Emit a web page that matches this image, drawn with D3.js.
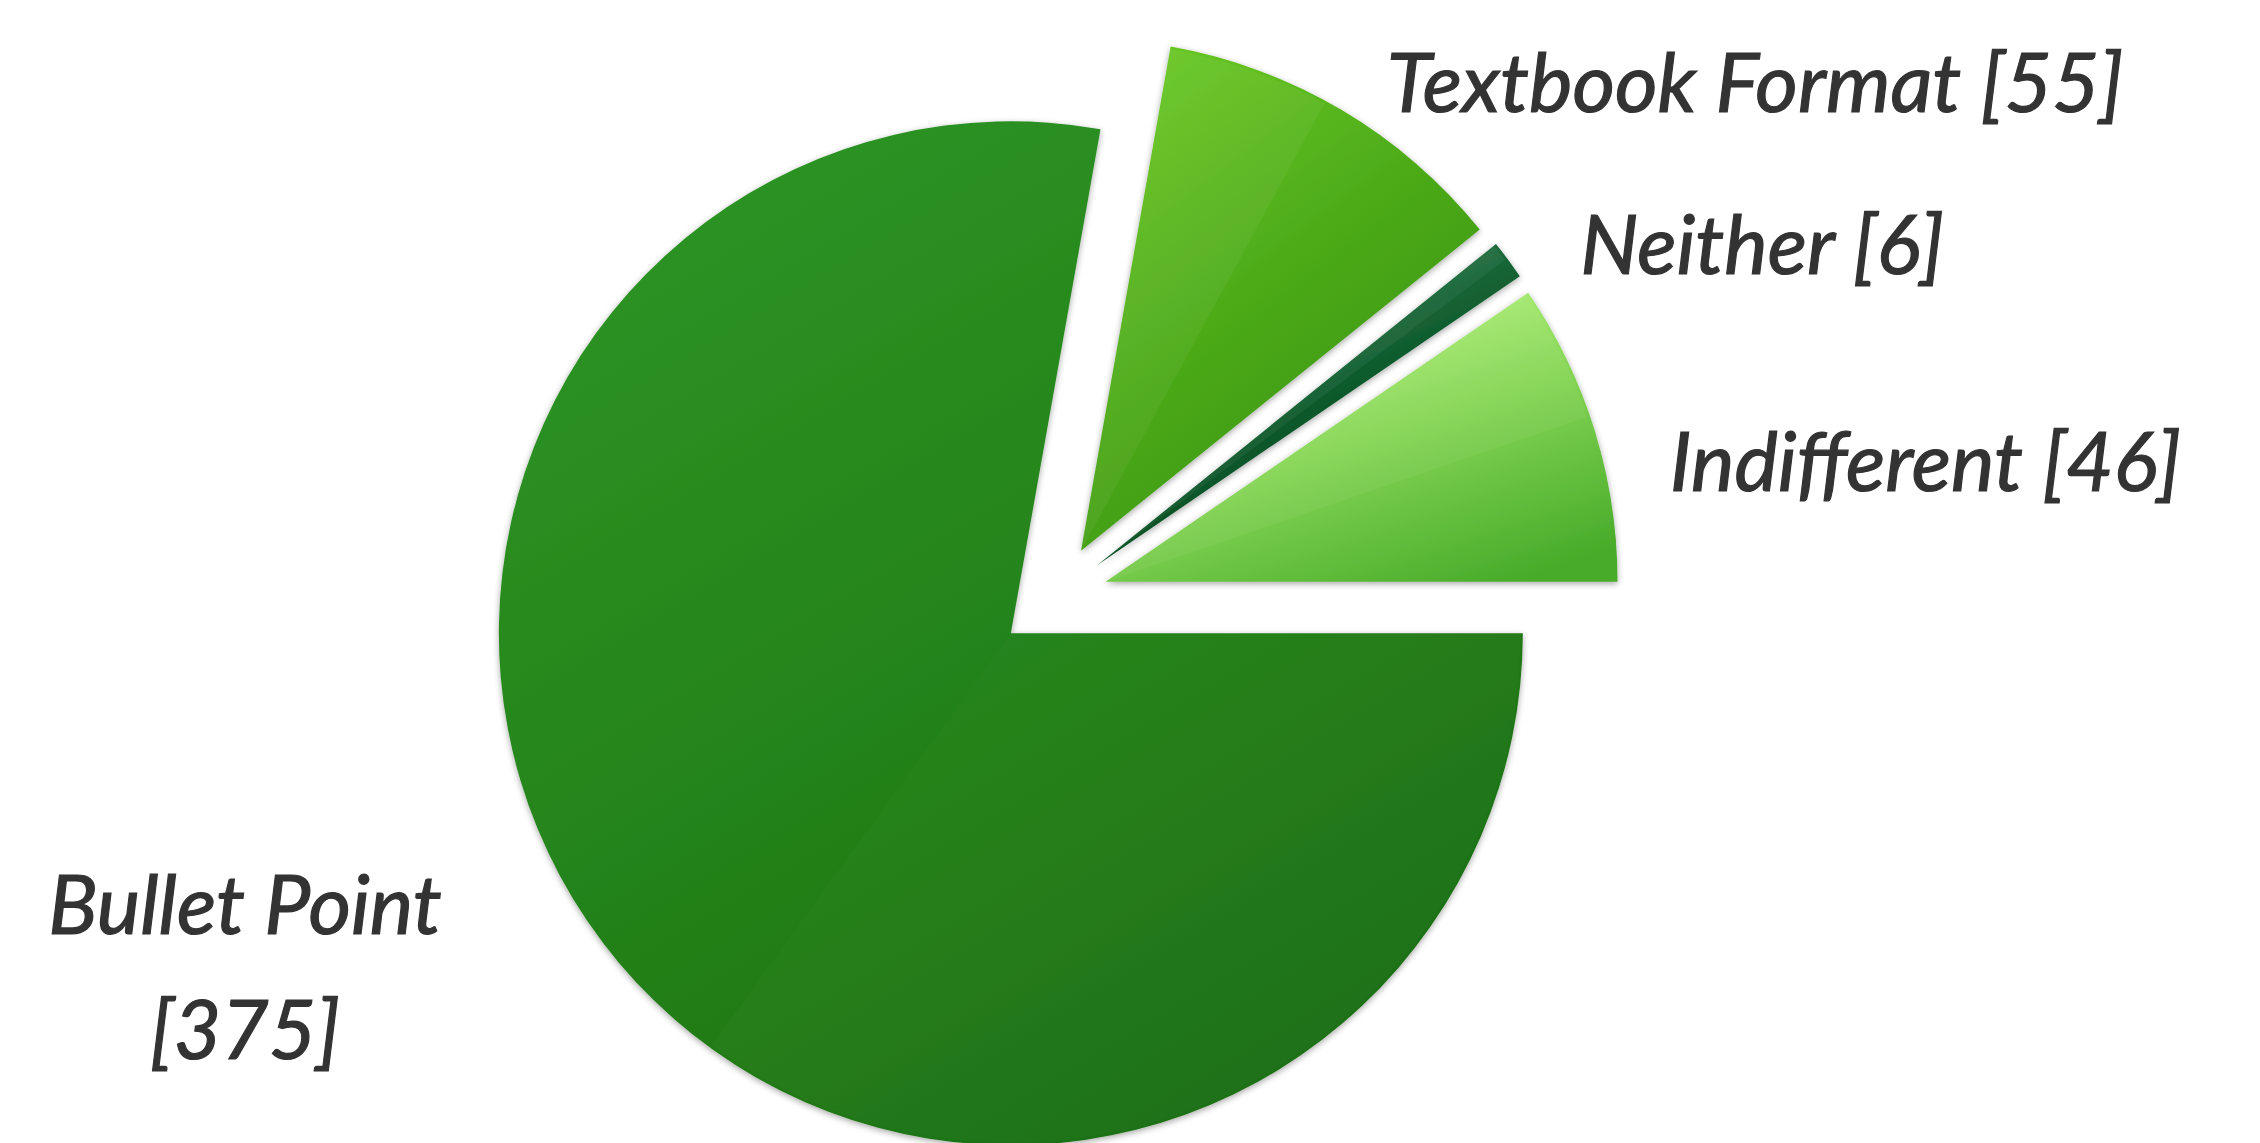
<!DOCTYPE html>
<html>
<head>
<meta charset="utf-8">
<script src="https://cdn.jsdelivr.net/npm/d3@7"></script>
<style>
  body { margin: 0; background: #ffffff; }
  svg { display: block; }
</style>
</head>
<body>
<svg id="pie"></svg>
<script>
// Data (clockwise from just right of 12 o'clock)
const categories = ["Textbook Format", "Neither", "Indifferent", "Bullet Point"];
const counts = [55, 6, 46, 375];

// Styling
const sliceStops = [
    ["#68c722", "#4aa818", "#36901a"],
    ["#3a8a58", "#0d5a2c", "#003a18"],
    ["#c6ff8c", "#86d655", "#48ab2a"],
    ["#2d9424", "#24831a", "#1c6c11"]
];
const facetOpacity = [0.05, 0.05, 0.05, 0.015];

let width = 2260, height = 1143;
let center = { x: 1053, y: 598 };
let radius = 512;
let explode = 55;

let svg = d3.select('#pie')
    .attr('width', width)
    .attr('height', height);

let defs = svg.append('defs');

// Drop shadow under the slices
let shadow = defs.append('filter')
    .attr('id', 'shadow')
    .attr('x', '-10%').attr('y', '-10%')
    .attr('width', '120%').attr('height', '120%');
shadow.append('feDropShadow')
    .attr('dx', 0).attr('dy', 2)
    .attr('stdDeviation', 3)
    .attr('flood-color', '#000')
    .attr('flood-opacity', 0.35);

// One gradient for each slice
sliceStops.forEach((stops, i) => {
    let g = defs.append('linearGradient')
        .attr('id', 'grad' + i)
        .attr('x1', 0.2).attr('y1', 0)
        .attr('x2', 0.8).attr('y2', 1);
    stops.forEach((c, j) => {
        g.append('stop')
            .attr('offset', j / (stops.length - 1))
            .attr('stop-color', c);
    });
});

// Start angle chosen so the last slice closes exactly at 3 o'clock
const total = d3.sum(counts);
const startAngle = Math.PI / 2 - 2 * Math.PI * d3.sum(counts.slice(0, 3)) / total;

let pie = d3.pie()
    .sort(null)
    .startAngle(startAngle)
    .endAngle(startAngle + 2 * Math.PI);

let arcs = pie(counts);

let arc = d3.arc()
    .innerRadius(0)
    .outerRadius(radius);

let chart = svg.append('g')
    .attr('transform', `translate(${center.x}, ${center.y})`);

// Draw each slice pushed out along its middle angle
let slices = chart.selectAll('.slice')
    .data(arcs)
    .enter()
    .append('g')
    .attr('class', 'slice')
    .attr('transform', d => {
        let mid = (d.startAngle + d.endAngle) / 2;
        return `translate(${Math.sin(mid) * explode}, ${-Math.cos(mid) * explode})`;
    });

slices.append('path')
    .attr('d', arc)
    .attr('fill', (d, i) => `url(#grad${i})`)
    .attr('filter', 'url(#shadow)');

// faint lighter facet on the leading half of each slice
slices.append('path')
    .attr('d', d => d3.arc()
        .innerRadius(0)
        .outerRadius(radius * 0.995)
        .startAngle(d.startAngle)
        .endAngle(d.startAngle + (d.endAngle - d.startAngle) * 0.45)())
    .attr('fill', '#ffffff')
    .attr('opacity', (d, i) => facetOpacity[i]);

// Labels
const labelOffsets = [
    { dx: 45, dy: 2 },
    { dx: 72, dy: 14 },
    { dx: 75, dy: 60 }
];

let labelR = radius + explode;

function styleLabel(sel) {
    sel.style('font-family', 'Lato, "Open Sans", sans-serif')
        .style('font-style', 'italic')
        .style('font-size', '82px')
        .style('fill', '#333333')
        .style('stroke', '#333333')
        .style('stroke-width', 1.2);
}

svg.append('g')
    .selectAll('text')
    .data(arcs.slice(0, 3))
    .enter()
    .append('text')
    .attr('x', (d, i) => {
        let mid = (d.startAngle + d.endAngle) / 2;
        return center.x + Math.sin(mid) * labelR + labelOffsets[i].dx;
    })
    .attr('y', (d, i) => {
        let mid = (d.startAngle + d.endAngle) / 2;
        return center.y - Math.cos(mid) * labelR + labelOffsets[i].dy;
    })
    .attr('text-anchor', 'start')
    .call(styleLabel)
    .text((d, i) => `${categories[i]} [${counts[i]}]`);

// Bullet Point label sits on two lines to the left of the pie
let bigLabel = svg.append('text')
    .attr('text-anchor', 'middle')
    .call(styleLabel);

bigLabel.append('tspan')
    .attr('x', 245)
    .attr('y', 934)
    .text(categories[3]);

bigLabel.append('tspan')
    .attr('x', 245)
    .attr('y', 1059)
    .text(`[${counts[3]}]`);
</script>
</body>
</html>
